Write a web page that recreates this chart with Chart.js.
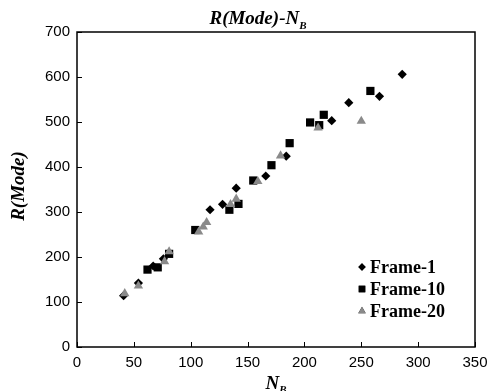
<!DOCTYPE html>
<html>
<head>
<meta charset="utf-8">
<script src="https://cdn.jsdelivr.net/npm/chart.js@4.4.0/dist/chart.umd.min.js"></script>
<style>
    html, body { margin: 0; padding: 0; background: #fff; }
    #wrap { width: 487px; height: 391px; position: relative; }
</style>
</head>
<body>
<div id="wrap"><canvas id="modeChart" width="487" height="391"></canvas></div>
<script>
// Data
const frame1X = [41, 54, 67, 76, 117, 128, 140, 166, 184, 224, 239, 266, 286];
const frame1Y = [114, 142, 180, 196, 305, 317, 353, 380, 424, 503, 543, 557, 606];

const frame10X = [62, 71, 81, 104, 134, 142, 155, 171, 187, 205, 213, 217, 258];
const frame10Y = [172, 177, 207, 260, 305, 318, 370, 404, 453, 499, 493, 516, 569];

const frame20X = [42, 54, 77, 81, 107, 111, 114, 135, 140, 159, 179, 212, 250];
const frame20Y = [119, 136, 190, 212, 256, 267, 277, 317, 329, 368, 425, 487, 502];

const xTicks = [0, 50, 100, 150, 200, 250, 300, 350];
const yTicks = [0, 100, 200, 300, 400, 500, 600, 700];

const seriesNames = ['Frame-1', 'Frame-10', 'Frame-20'];

function toPoints(xs, ys) {
    return xs.map((x, i) => ({ x: x, y: ys[i] }));
}

const tickFont = { family: "'Liberation Sans', Arial, sans-serif", size: 15 };
const serif = "'Liberation Serif', 'Times New Roman', serif";

// Frame box, inward ticks, titles and legend
const decorPlugin = {
    id: 'decor',
    afterDraw(chart) {
        const ctx = chart.ctx;
        const area = chart.chartArea;
        const xs = chart.scales.x;
        const ys = chart.scales.y;
        ctx.save();

        // box
        ctx.strokeStyle = '#000';
        ctx.lineWidth = 1.5;
        ctx.strokeRect(area.left, area.top, area.right - area.left, area.bottom - area.top);

        // inward ticks
        ctx.lineWidth = 1;
        xTicks.forEach(v => {
            const px = Math.round(xs.getPixelForValue(v)) + 0.5;
            ctx.beginPath();
            ctx.moveTo(px, area.bottom);
            ctx.lineTo(px, area.bottom - 5);
            ctx.stroke();
        });
        yTicks.forEach(v => {
            const py = Math.round(ys.getPixelForValue(v)) + 0.5;
            ctx.beginPath();
            ctx.moveTo(area.left, py);
            ctx.lineTo(area.left + 5, py);
            ctx.stroke();
        });

        // title  R(Mode)-N_B
        ctx.fillStyle = '#000';
        ctx.textBaseline = 'alphabetic';
        ctx.font = 'italic bold 19px ' + serif;
        const main = 'R(Mode)-N';
        const mainW = ctx.measureText(main).width;
        ctx.font = 'italic bold 11px ' + serif;
        const subW = ctx.measureText('B').width;
        let tx = 258 - (mainW + subW) / 2;
        ctx.font = 'italic bold 19px ' + serif;
        ctx.textAlign = 'left';
        ctx.fillText(main, tx, 24);
        ctx.font = 'italic bold 11px ' + serif;
        ctx.fillText('B', tx + mainW, 29);

        // x axis title  N_B
        ctx.font = 'italic bold 19px ' + serif;
        const nW = ctx.measureText('N').width;
        const bx = 276 - (nW + subW) / 2;
        ctx.fillText('N', bx, 389);
        ctx.font = 'italic bold 11px ' + serif;
        ctx.fillText('B', bx + nW, 393);

        // y axis title
        ctx.save();
        ctx.translate(24, 186);
        ctx.rotate(-Math.PI / 2);
        ctx.font = 'italic bold 19px ' + serif;
        ctx.textAlign = 'center';
        ctx.fillText('R(Mode)', 0, 0);
        ctx.restore();

        // legend
        const legendY = [267, 289, 311];
        chart.data.datasets.forEach((ds, i) => {
            Chart.helpers.drawPoint(ctx, {
                pointStyle: ds.pointStyle,
                radius: ds.pointRadius * 0.8,
                borderWidth: 0
            }, 362, legendY[i]);
            ctx.fillStyle = ds.backgroundColor;
            ctx.fill();
            ctx.fillStyle = '#000';
            ctx.font = 'bold 18px ' + serif;
            ctx.textAlign = 'left';
            ctx.textBaseline = 'middle';
            ctx.fillText(seriesNames[i], 370, legendY[i] + 1);
        });

        ctx.restore();
    }
};

const chartCtx = document.getElementById('modeChart').getContext('2d');
new Chart(chartCtx, {
    type: 'scatter',
    data: {
        datasets: [
            {
                label: seriesNames[0],
                data: toPoints(frame1X, frame1Y),
                pointStyle: 'rectRot',
                pointRadius: 4.6,
                backgroundColor: '#000',
                borderColor: '#000',
                borderWidth: 0,
                order: 3
            },
            {
                label: seriesNames[1],
                data: toPoints(frame10X, frame10Y),
                pointStyle: 'rect',
                pointRadius: 5.8,
                backgroundColor: '#000',
                borderColor: '#000',
                borderWidth: 0,
                order: 2
            },
            {
                label: seriesNames[2],
                data: toPoints(frame20X, frame20Y),
                pointStyle: 'triangle',
                pointRadius: 5.4,
                backgroundColor: '#8a8a8a',
                borderColor: '#8a8a8a',
                borderWidth: 0,
                order: 1
            }
        ]
    },
    options: {
        responsive: false,
        animation: false,
        devicePixelRatio: 1,
        layout: { padding: { top: 32, right: 12, left: 0, bottom: 0 } },
        plugins: {
            legend: { display: false },
            tooltip: { enabled: false }
        },
        scales: {
            x: {
                type: 'linear',
                min: 0,
                max: 350,
                afterBuildTicks: (scale) => { scale.ticks = xTicks.map(v => ({ value: v })); },
                afterFit: (scale) => {
                    scale.height = 44;
                    scale.paddingLeft = 0;
                    scale.paddingRight = 0;
                },
                grid: { display: false, drawTicks: false },
                border: { display: false },
                ticks: { color: '#000', font: tickFont, padding: 7, maxRotation: 0 }
            },
            y: {
                type: 'linear',
                min: 0,
                max: 700,
                afterBuildTicks: (scale) => { scale.ticks = yTicks.map(v => ({ value: v })); },
                afterFit: (scale) => {
                    scale.width = 77;
                    scale.paddingTop = 0;
                    scale.paddingBottom = 0;
                },
                grid: { display: false, drawTicks: false },
                border: { display: false },
                ticks: { color: '#000', font: tickFont, padding: 7 }
            }
        }
    },
    plugins: [decorPlugin]
});
</script>
</body>
</html>
